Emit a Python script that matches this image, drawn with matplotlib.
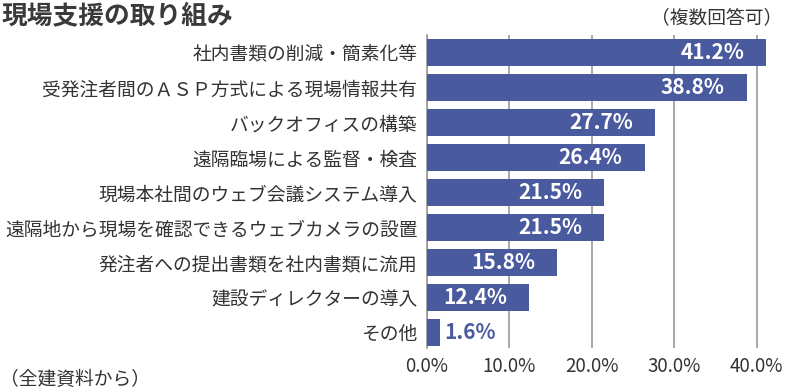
import matplotlib.pyplot as plt

plt.rcParams['font.family'] = ['Noto Sans CJK JP', 'DejaVu Sans']

# data
categories = [
    "社内書類の削減・簡素化等",
    "受発注者間のＡＳＰ方式による現場情報共有",
    "バックオフィスの構築",
    "遠隔臨場による監督・検査",
    "現場本社間のウェブ会議システム導入",
    "遠隔地から現場を確認できるウェブカメラの設置",
    "発注者への提出書類を社内書類に流用",
    "建設ディレクターの導入",
    "その他",
]
values = [41.2, 38.8, 27.7, 26.4, 21.5, 21.5, 15.8, 12.4, 1.6]
ticks = [0, 10, 20, 30, 40]

bar_color = "#4a5a9e"
text_color = "#333333"

fig = plt.figure(figsize=(7.85, 3.9), dpi=100)
ax = fig.add_axes([0.544, 0.108, 0.446, 0.802])

y = list(range(len(categories)))
ax.barh(y, values, height=0.77, color=bar_color, zorder=3)
ax.set_ylim(len(categories) - 0.55, -0.5)
ax.set_xlim(0, 42.5)

ax.set_xticks(ticks)
ax.set_xticklabels([f"{t:.1f}%" for t in ticks], fontsize=13.5, color=text_color)
ax.set_yticks(y)
ax.set_yticklabels(categories, fontsize=13.5, color=text_color)
ax.tick_params(axis='x', length=0, pad=6)
ax.tick_params(axis='y', length=0, pad=7)

ax.grid(axis='x', color='#999999', linewidth=1.2, zorder=0)
for s in ['top', 'right', 'bottom']:
    ax.spines[s].set_visible(False)
ax.spines['left'].set_color('#999999')
ax.spines['left'].set_linewidth(1.2)

# value labels
for yi, v in zip(y, values):
    if v > 5:
        ax.text(v - 2.7, yi, f"{v}%", ha='right', va='center', color='white',
                fontsize=15, fontweight='bold', zorder=4)
    else:
        ax.text(v + 0.5, yi, f"{v}%", ha='left', va='center', color=bar_color,
                fontsize=15, fontweight='bold', zorder=4)

fig.text(0.002, 0.96, "現場支援の取り組み", fontsize=18.5, fontweight='bold',
         color='#3a3a3a', va='center', ha='left')
fig.text(0.997, 0.955, "（複数回答可）", fontsize=13.5, color=text_color,
         va='center', ha='right')
fig.text(0.0, 0.028, "（全建資料から）", fontsize=13.5, color=text_color,
         va='center', ha='left')

fig.savefig("out.png", dpi=100)
